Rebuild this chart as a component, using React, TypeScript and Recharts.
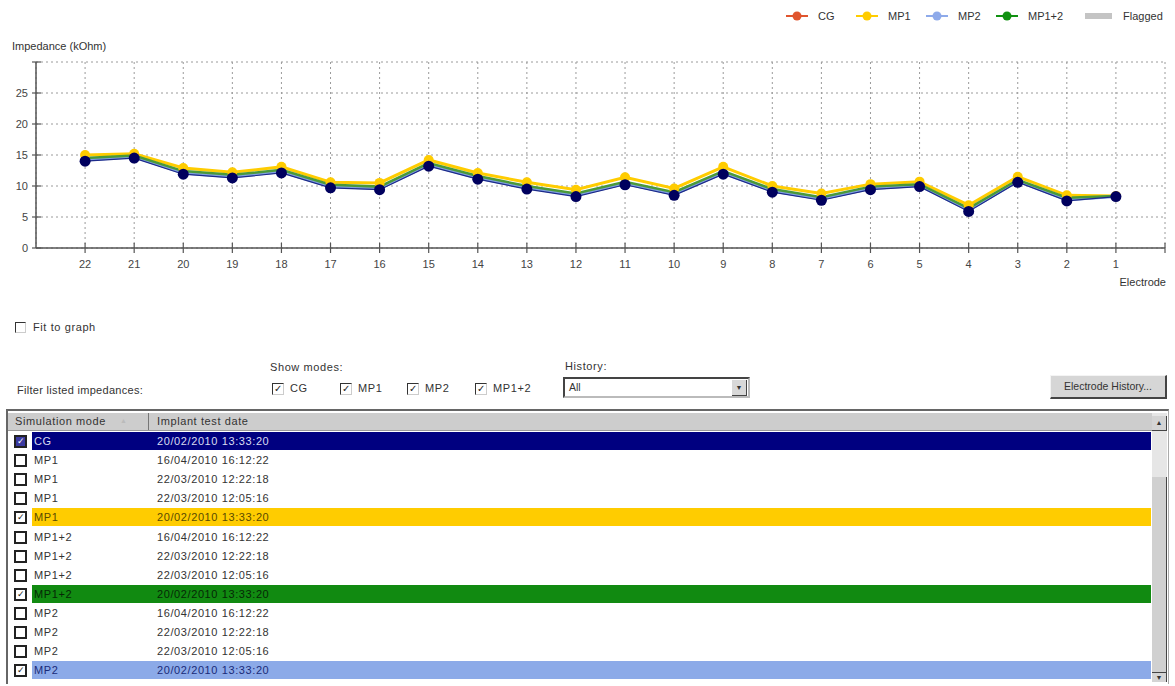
import React from 'react';
import { LineChart, Line, XAxis, YAxis, CartesianGrid } from 'recharts';

// electrode numbers, left to right
const electrodes = [22, 21, 20, 19, 18, 17, 16, 15, 14, 13, 12, 11, 10, 9, 8, 7, 6, 5, 4, 3, 2, 1];

// impedance (kOhm) per electrode, one array per stimulation mode
const cgValues = [14.0, 14.5, 11.9, 11.3, 12.1, 9.7, 9.4, 13.2, 11.1, 9.5, 8.3, 10.2, 8.5, 11.9, 9.0, 7.7, 9.4, 9.9, 5.9, 10.6, 7.6, 8.3];
const mp1Values = [15.0, 15.2, 12.9, 12.2, 13.1, 10.6, 10.5, 14.2, 12.1, 10.6, 9.4, 11.4, 9.6, 13.1, 10.0, 8.8, 10.3, 10.7, 6.9, 11.5, 8.5, 8.4];
const mp2Values = [14.2, 14.7, 12.1, 11.5, 12.3, 9.9, 9.6, 13.4, 11.3, 9.7, 8.5, 10.4, 8.7, 12.1, 9.2, 7.9, 9.6, 10.1, 6.1, 10.8, 7.8, 8.3];
const mp12Values = [14.5, 14.9, 12.4, 11.8, 12.6, 10.2, 9.9, 13.7, 11.6, 10.0, 8.8, 10.7, 9.0, 12.4, 9.5, 8.2, 9.9, 10.3, 6.4, 11.0, 8.1, 8.4];

const xTicks = [22, 21, 20, 19, 18, 17, 16, 15, 14, 13, 12, 11, 10, 9, 8, 7, 6, 5, 4, 3, 2, 1, 0];
const yTicks = [0, 5, 10, 15, 20, 25, 30];

const legendItems = [
  { name: 'CG', color: '#e0552e' },
  { name: 'MP1', color: '#ffcc00' },
  { name: 'MP2', color: '#8eaaea' },
  { name: 'MP1+2', color: '#119111' },
];

// listed impedance rows
const rowModes = ['CG', 'MP1', 'MP1', 'MP1', 'MP1', 'MP1+2', 'MP1+2', 'MP1+2', 'MP1+2', 'MP2', 'MP2', 'MP2', 'MP2'];
const rowDates = [
  '20/02/2010 13:33:20',
  '16/04/2010 16:12:22',
  '22/03/2010 12:22:18',
  '22/03/2010 12:05:16',
  '20/02/2010 13:33:20',
  '16/04/2010 16:12:22',
  '22/03/2010 12:22:18',
  '22/03/2010 12:05:16',
  '20/02/2010 13:33:20',
  '16/04/2010 16:12:22',
  '22/03/2010 12:22:18',
  '22/03/2010 12:05:16',
  '20/02/2010 13:33:20',
];
const rowChecked = [true, false, false, false, true, false, false, false, true, false, false, false, true];

const rowStyle: Record<string, { bg: string; fg: string }> = {
  CG: { bg: '#000080', fg: '#d8dcf0' },
  MP1: { bg: '#ffcc00', fg: '#5a4a00' },
  'MP1+2': { bg: '#118a11', fg: '#062806' },
  MP2: { bg: '#8caae8', fg: '#1a2a78' },
};

const data = electrodes.map((e, i) => ({
  electrode: e,
  CG: cgValues[i],
  MP1: mp1Values[i],
  MP2: mp2Values[i],
  MP12: mp12Values[i],
}));

const font = "'Liberation Sans', Arial, sans-serif";
const ui = { fontSize: 11, letterSpacing: 0.6 };

const XTick = ({ x, y, payload }: any) => (
  <g>
    <line x1={x} x2={x} y1={y - 5} y2={y + 5} stroke="#555" strokeWidth={1.2} />
    {payload.value !== 0 && (
      <text x={x} y={y + 20} textAnchor="middle" fontSize={11} fill="#444" fontFamily={font}>
        {payload.value}
      </text>
    )}
  </g>
);

const YTick = ({ x, y, payload }: any) => (
  <g>
    <line x1={x - 4} x2={x + 5} y1={y} y2={y} stroke="#555" strokeWidth={1.2} />
    {payload.value !== 30 && (
      <text x={x - 8} y={y + 4} textAnchor="end" fontSize={11} fill="#444" fontFamily={font}>
        {payload.value}
      </text>
    )}
  </g>
);

const Box = ({ checked, x, y, tint }: { checked: boolean; x: number; y: number; tint?: boolean }) => (
  <div
    style={{
      position: 'absolute',
      left: x,
      top: y,
      width: 9,
      height: 9,
      border: '2px solid #222',
      background: tint ? '#3a3aa0' : '#fff',
      color: tint ? '#fff' : '#222',
      fontSize: 9,
      lineHeight: '9px',
      textAlign: 'center',
    }}
  >
    {checked ? '✓' : ''}
  </div>
);

const ModeBox = ({ x, y, label }: { x: number; y: number; label: string }) => (
  <>
    <div
      style={{
        position: 'absolute',
        left: x,
        top: y,
        width: 10,
        height: 10,
        borderTop: '1px solid #333',
        borderLeft: '1px solid #333',
        borderRight: '1px solid #ccc',
        borderBottom: '1px solid #ccc',
        background: '#fff',
        fontSize: 10,
        lineHeight: '10px',
        textAlign: 'center',
        color: '#222',
      }}
    >
      ✓
    </div>
    <div style={{ position: 'absolute', left: x + 18, top: y - 1, ...ui }}>{label}</div>
  </>
);

export default function App() {
  return (
    <div
      style={{
        position: 'absolute',
        left: 0,
        top: 0,
        width: 1175,
        height: 686,
        background: '#fff',
        fontFamily: font,
        fontSize: 11,
        color: '#333',
        overflow: 'hidden',
      }}
    >
      {/* legend */}
      {legendItems.map((item, i) => (
        <div key={item.name} style={{ position: 'absolute', top: 9, left: 786 + i * 70, height: 14, display: 'flex', alignItems: 'center' }}>
          <svg width={22} height={14}>
            <line x1={0} x2={22} y1={7} y2={7} stroke={item.color} strokeWidth={2} />
            <circle cx={11} cy={7} r={4.5} fill={item.color} />
          </svg>
          <span style={{ marginLeft: 10, fontSize: 11 }}>{item.name}</span>
        </div>
      ))}
      <div style={{ position: 'absolute', top: 9, left: 1085, height: 14, display: 'flex', alignItems: 'center' }}>
        <div style={{ width: 27, height: 6, background: '#c4c4c4' }} />
        <span style={{ marginLeft: 11, fontSize: 11 }}>Flagged</span>
      </div>

      <div style={{ position: 'absolute', left: 12, top: 40, fontSize: 11 }}>Impedance (kOhm)</div>

      <div style={{ position: 'absolute', left: 0, top: 0 }}>
        <LineChart width={1175} height={300} data={data} margin={{ top: 62, right: 10, bottom: 22, left: 6 }}>
          <CartesianGrid stroke="#9a9a9a" strokeDasharray="2 3" />
          <XAxis
            dataKey="electrode"
            type="number"
            domain={[0, 23]}
            reversed
            ticks={xTicks}
            interval={0}
            height={30}
            tickSize={0}
            tickMargin={0}
            tick={<XTick />}
            axisLine={{ stroke: '#555', strokeWidth: 1.5 }}
          />
          <YAxis
            type="number"
            domain={[0, 30]}
            ticks={yTicks}
            interval={0}
            width={30}
            tickSize={0}
            tickMargin={0}
            tick={<YTick />}
            axisLine={{ stroke: '#555', strokeWidth: 1.5 }}
          />
          <Line
            type="linear"
            dataKey="MP1"
            stroke="#ffcc00"
            strokeWidth={3}
            dot={{ r: 5, fill: '#ffcc00', stroke: 'none' }}
            isAnimationActive={false}
          />
          <Line type="linear" dataKey="MP2" stroke="#7f9fe0" strokeWidth={3} dot={false} isAnimationActive={false} />
          <Line type="linear" dataKey="MP12" stroke="#4a9a3a" strokeWidth={2.5} dot={false} isAnimationActive={false} />
          <Line
            type="linear"
            dataKey="CG"
            stroke="#1c2a8a"
            strokeWidth={1.2}
            dot={{ r: 5.5, fill: '#00005e', stroke: 'none' }}
            isAnimationActive={false}
          />
        </LineChart>
      </div>

      <div style={{ position: 'absolute', right: 9, top: 276, fontSize: 11 }}>Electrode</div>

      {/* controls */}
      <div
        style={{
          position: 'absolute',
          left: 15,
          top: 322,
          width: 9,
          height: 9,
          borderTop: '1px solid #333',
          borderLeft: '1px solid #333',
          borderRight: '1px solid #ccc',
          borderBottom: '1px solid #ccc',
        }}
      />
      <div style={{ position: 'absolute', left: 33, top: 321, ...ui }}>Fit to graph</div>

      <div style={{ position: 'absolute', left: 270, top: 361, ...ui }}>Show modes:</div>
      <div style={{ position: 'absolute', left: 17, top: 384, fontSize: 11, letterSpacing: 0.3 }}>Filter listed impedances:</div>
      <ModeBox x={272} y={383} label="CG" />
      <ModeBox x={340} y={383} label="MP1" />
      <ModeBox x={407} y={383} label="MP2" />
      <ModeBox x={475} y={383} label="MP1+2" />

      <div style={{ position: 'absolute', left: 565, top: 360, ...ui }}>History:</div>
      <div
        style={{
          position: 'absolute',
          left: 563,
          top: 377,
          width: 183,
          height: 17,
          borderTop: '2px solid #444',
          borderLeft: '2px solid #444',
          borderRight: '2px solid #bbb',
          borderBottom: '2px solid #bbb',
          background: '#fff',
        }}
      >
        <span style={{ position: 'absolute', left: 4, top: 2, fontSize: 10.5 }}>All</span>
        <div
          style={{
            position: 'absolute',
            right: 1,
            top: 1,
            width: 14,
            height: 15,
            background: '#d8d8d8',
            borderRight: '1px solid #444',
            borderBottom: '1px solid #444',
            fontSize: 7,
            lineHeight: '15px',
            textAlign: 'center',
          }}
        >
          ▼
        </div>
      </div>

      <div
        style={{
          position: 'absolute',
          left: 1050,
          top: 375,
          width: 114,
          height: 21,
          background: '#d6d6d6',
          borderTop: '1px solid #f4f4f4',
          borderLeft: '1px solid #f4f4f4',
          borderRight: '2px solid #444',
          borderBottom: '2px solid #444',
          fontSize: 10.5,
          lineHeight: '21px',
          textAlign: 'center',
        }}
      >
        Electrode History...
      </div>

      {/* impedance list */}
      <div
        style={{
          position: 'absolute',
          left: 6,
          top: 409,
          width: 1160,
          height: 273,
          borderTop: '2px solid #666',
          borderLeft: '2px solid #666',
          borderRight: '1px solid #aaa',
          background: '#fff',
        }}
      />
      <div style={{ position: 'absolute', left: 8, top: 413, width: 1144, height: 17, background: '#cdcdcd', borderBottom: '1px solid #999' }} />
      <div style={{ position: 'absolute', left: 148, top: 413, width: 1, height: 17, background: '#777' }} />
      <div style={{ position: 'absolute', left: 15, top: 415, ...ui }}>Simulation mode</div>
      <div style={{ position: 'absolute', left: 120, top: 417, fontSize: 7, color: '#bbb' }}>▲</div>
      <div style={{ position: 'absolute', left: 157, top: 415, ...ui }}>Implant test date</div>

      {rowModes.map((mode, i) => {
        const top = 432 + i * 19.1;
        const hl = rowChecked[i] ? rowStyle[mode] : null;
        return (
          <React.Fragment key={i}>
            {hl && <div style={{ position: 'absolute', left: 32, top, width: 1119, height: 18, background: hl.bg }} />}
            <Box checked={rowChecked[i]} x={14} y={top + 3} tint={mode === 'CG' && rowChecked[i]} />
            <div style={{ position: 'absolute', left: 34, top: top + 3, ...ui, color: hl ? hl.fg : '#333' }}>{mode}</div>
            <div style={{ position: 'absolute', left: 157, top: top + 3, ...ui, color: hl ? hl.fg : '#333' }}>{rowDates[i]}</div>
          </React.Fragment>
        );
      })}

      {/* scrollbar */}
      <div style={{ position: 'absolute', left: 1152, top: 413, width: 15, height: 269, background: '#e6e6e6' }} />
      <div
        style={{
          position: 'absolute',
          left: 1152,
          top: 416,
          width: 14,
          height: 14,
          background: '#d4d4d4',
          borderRight: '1px solid #444',
          borderBottom: '1px solid #444',
          fontSize: 7,
          lineHeight: '14px',
          textAlign: 'center',
        }}
      >
        ▲
      </div>
      <div style={{ position: 'absolute', left: 1152, top: 477, width: 14, height: 195, background: '#d0d0d0', borderRight: '1px solid #444', borderBottom: '1px solid #444' }} />
      <div
        style={{
          position: 'absolute',
          left: 1152,
          top: 673,
          width: 14,
          height: 9,
          background: '#d4d4d4',
          borderRight: '1px solid #444',
          fontSize: 7,
          lineHeight: '9px',
          textAlign: 'center',
        }}
      >
        ▼
      </div>
    </div>
  );
}
